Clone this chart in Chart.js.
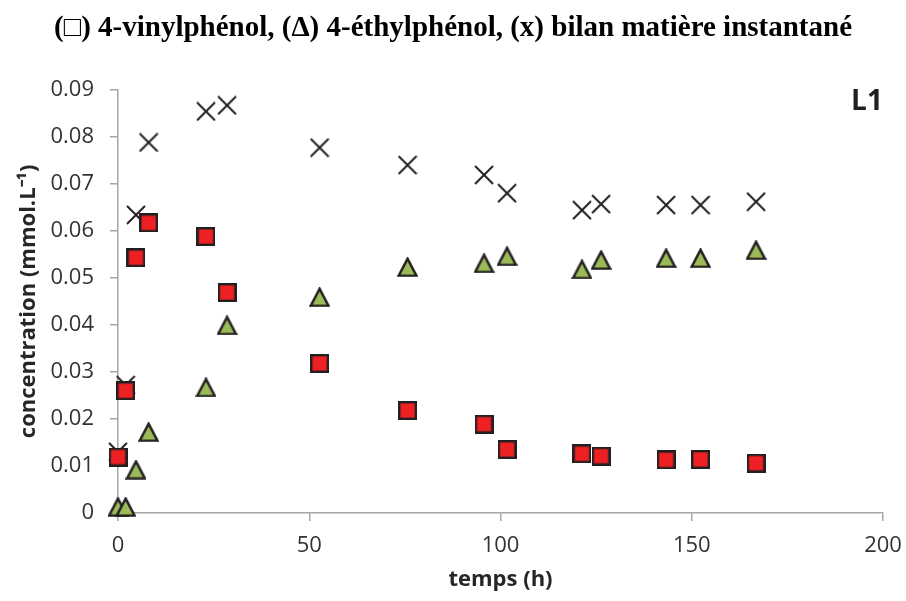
<!DOCTYPE html>
<html>
<head>
<meta charset="utf-8">
<script src="https://cdn.jsdelivr.net/npm/chart.js@4"></script>
<style>
    html, body { margin: 0; padding: 0; background: #fff; }
    #wrap { width: 906px; height: 601px; }
</style>
</head>
<body>
<div id="wrap"><canvas id="chart" width="906" height="601"></canvas></div>
<script>
// Sampling times (h)
const timeH = [0, 2, 4.7, 8, 23, 28.5, 52.7, 75.7, 95.7, 101.7, 121.3, 126.3, 143.3, 152.3, 166.8];

// Concentrations (mmol.L-1)
const vinylphenol = [0.0119, 0.0260, 0.0543, 0.0617, 0.0588, 0.0469, 0.0318, 0.0218, 0.0189, 0.0135, 0.0126, 0.0121, 0.0113, 0.0114, 0.0106];
const ethylphenol = [0.0013, 0.0013, 0.0092, 0.0172, 0.0267, 0.0399, 0.0459, 0.0523, 0.0531, 0.0546, 0.0518, 0.0538, 0.0542, 0.0542, 0.0559];
const bilan = [0.0130, 0.0272, 0.0634, 0.0788, 0.0854, 0.0867, 0.0777, 0.0740, 0.0719, 0.0680, 0.0644, 0.0657, 0.0655, 0.0655, 0.0662];

// Axis ticks
const xTickValues = [0, 50, 100, 150, 200];
const yTickValues = [0, 0.01, 0.02, 0.03, 0.04, 0.05, 0.06, 0.07, 0.08, 0.09];
const yTickLabels = ['0', '0.01', '0.02', '0.03', '0.04', '0.05', '0.06', '0.07', '0.08', '0.09'];

const INK = '#231f20';
const AXIS = '#a6a6a6';

// Marker images
function squareMarker() {
    const c = document.createElement('canvas');
    c.width = 19; c.height = 19;
    const g = c.getContext('2d');
    g.fillStyle = '#ed2024';
    g.strokeStyle = INK;
    g.lineWidth = 2.4;
    g.fillRect(1.2, 1.2, 16.6, 16.6);
    g.strokeRect(1.2, 1.2, 16.6, 16.6);
    return c;
}

function triangleMarker() {
    const c = document.createElement('canvas');
    c.width = 21; c.height = 20;
    const g = c.getContext('2d');
    g.fillStyle = '#9bbb59';
    g.strokeStyle = INK;
    g.lineWidth = 2.4;
    g.lineJoin = 'miter';
    g.beginPath();
    g.moveTo(10.5, 1.6);
    g.lineTo(19.4, 18.6);
    g.lineTo(1.6, 18.6);
    g.closePath();
    g.fill();
    g.stroke();
    return c;
}

function crossMarker() {
    const c = document.createElement('canvas');
    c.width = 20; c.height = 20;
    const g = c.getContext('2d');
    g.strokeStyle = INK;
    g.lineWidth = 2;
    g.beginPath();
    g.moveTo(1, 1); g.lineTo(19, 19);
    g.moveTo(19, 1); g.lineTo(1, 19);
    g.stroke();
    return c;
}

function toPoints(values) {
    return values.map((v, i) => ({ x: timeH[i], y: v }));
}

// "L1" tag in the top right corner of the plot
const cornerTag = {
    id: 'cornerTag',
    afterDraw(chart) {
        const ctx = chart.ctx;
        ctx.save();
        ctx.font = 'bold 28px "Open Sans"';
        ctx.fillStyle = INK;
        ctx.textAlign = 'center';
        ctx.textBaseline = 'middle';
        ctx.fillText('L1', 867, 102);
        ctx.restore();
    }
};

const tickFont = { family: '"Open Sans"', size: 22 };
const titleFont = { family: '"Open Sans"', size: 22, weight: 'bold' };

new Chart(document.getElementById('chart'), {
    type: 'scatter',
    data: {
        datasets: [
            { label: '4-vinylphénol', data: toPoints(vinylphenol), pointStyle: squareMarker(), pointRadius: 9, clip: false },
            { label: '4-éthylphénol', data: toPoints(ethylphenol), pointStyle: triangleMarker(), pointRadius: 9, clip: false },
            { label: 'bilan matière instantané', data: toPoints(bilan), pointStyle: crossMarker(), pointRadius: 9, clip: false }
        ]
    },
    options: {
        responsive: false,
        animation: false,
        layout: { padding: { left: 0, right: 0, top: 0, bottom: 0 } },
        plugins: {
            legend: { display: false },
            tooltip: { enabled: false },
            title: {
                display: true,
                text: '(\u25a1) 4-vinylphénol, (\u0394) 4-éthylphénol, (x) bilan matière instantané',
                color: '#000',
                font: { family: '"Liberation Serif"', size: 29, weight: 'bold' },
                padding: { top: 11, bottom: 44 }
            }
        },
        scales: {
            x: {
                type: 'linear',
                min: 0,
                max: 200,
                afterBuildTicks: axis => { axis.ticks = xTickValues.map(v => ({ value: v })); },
                afterFit: axis => {
                    axis.height = 88;
                    axis.paddingRight = 23;
                },
                grid: { display: true, drawOnChartArea: false, drawTicks: true, tickLength: 8, color: AXIS, lineWidth: 1.5 },
                border: { display: true, color: AXIS, width: 1.5 },
                ticks: { color: '#333', font: tickFont, padding: 12, maxRotation: 0 },
                title: { display: true, text: 'temps (h)', color: '#262626', font: titleFont, padding: { top: 0, bottom: 8 } }
            },
            y: {
                type: 'linear',
                min: 0,
                max: 0.09,
                afterBuildTicks: axis => { axis.ticks = yTickValues.map(v => ({ value: v })); },
                afterFit: axis => { axis.width = 118; },
                grid: { display: true, drawOnChartArea: false, drawTicks: true, tickLength: 8, color: AXIS, lineWidth: 1.5 },
                border: { display: true, color: AXIS, width: 1.5 },
                ticks: {
                    color: '#333',
                    font: tickFont,
                    padding: 16,
                    callback: (value, index) => yTickLabels[index]
                },
                title: { display: true, text: 'concentration (mmol.L\u207b\u00b9)', color: '#262626', font: titleFont, padding: { top: 16, bottom: 0 } }
            }
        }
    },
    plugins: [cornerTag]
});
</script>
</body>
</html>
